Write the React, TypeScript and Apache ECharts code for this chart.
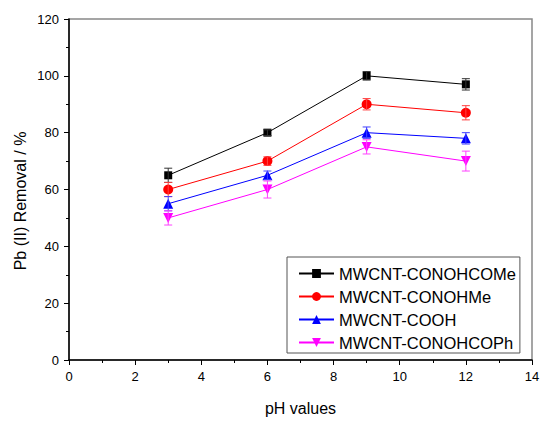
import React, { useEffect, useRef } from "react";
import * as echarts from "echarts";

const pH = [3, 6, 9, 12];
const seriesNames = ["MWCNT-CONOHCOMe", "MWCNT-CONOHMe", "MWCNT-COOH", "MWCNT-CONOHCOPh"];
const conohcome = [65, 80, 100, 97];
const conohme = [60, 70, 90, 87];
const cooh = [55, 65, 80, 78];
const conohcoph = [50, 60, 75, 70];
const errConohcome = [2.5, 1, 1.5, 2];
const errConohme = [2.5, 1.5, 2, 2.5];
const errCooh = [2.5, 1.5, 2, 2];
const errConohcoph = [2.5, 3, 2.5, 3.5];

const FONT = 'Arial, "Liberation Sans", sans-serif';

export default function App() {
  const ref = useRef<HTMLDivElement>(null);
  useEffect(() => {
    if (!ref.current) return;
    const chart = echarts.init(ref.current, null, { renderer: "svg" });
    const values = [conohcome, conohme, cooh, conohcoph];
    const errs = [errConohcome, errConohme, errCooh, errConohcoph];
    const colors = ["#000000", "#ff0000", "#0000ff", "#ff00ff"];
    const errColors = ["#333333", "#ff4040", "#4040ff", "#ff40ff"];
    const symbols = ["rect", "circle", "triangle", "triangle"];
    const sizes = [8, 10, 10, 10];
    const rotates = [0, 0, 0, 180];

    const lineSeries = values.map((vals, i) => ({
      name: seriesNames[i],
      type: "line",
      data: pH.map((x, j) => [x, vals[j]]),
      symbol: symbols[i],
      symbolSize: sizes[i],
      symbolRotate: rotates[i],
      lineStyle: { color: colors[i], width: 1 },
      itemStyle: { color: colors[i] },
      z: 3,
    }));

    const errSeries = values.map((vals, i) => ({
      name: seriesNames[i] + " err",
      type: "custom",
      z: 4,
      data: pH.map((x, j) => [x, vals[j] - errs[i][j], vals[j] + errs[i][j]]),
      encode: { x: 0, y: [1, 2] },
      renderItem: (params: any, api: any) => {
        const x = api.value(0);
        const p1 = api.coord([x, api.value(2)]);
        const p2 = api.coord([x, api.value(1)]);
        const hw = 4;
        const style = { stroke: errColors[i], lineWidth: 1 };
        return {
          type: "group",
          children: [
            { type: "line", shape: { x1: p1[0], y1: p1[1], x2: p2[0], y2: p2[1] }, style },
            { type: "line", shape: { x1: p1[0] - hw, y1: p1[1], x2: p1[0] + hw, y2: p1[1] }, style },
            { type: "line", shape: { x1: p2[0] - hw, y1: p2[1], x2: p2[0] + hw, y2: p2[1] }, style },
          ],
        };
      },
    }));

    chart.setOption({
      animation: false,
      backgroundColor: "#ffffff",
      grid: {
        left: 69,
        right: 18,
        top: 19,
        bottom: 59,
        show: true,
        borderColor: "#888888",
        borderWidth: 1.5,
        backgroundColor: "transparent",
      },
      xAxis: {
        type: "value",
        min: 0,
        max: 14,
        interval: 2,
        name: "pH values",
        nameLocation: "middle",
        nameGap: 40,
        nameTextStyle: { fontSize: 16, color: "#000", fontFamily: FONT },
        axisLine: { lineStyle: { color: "#000", width: 1.5 } },
        axisTick: { show: true, inside: false, length: 5, lineStyle: { color: "#000" } },
        minorTick: { show: true, splitNumber: 2, length: 3, lineStyle: { color: "#000" } },
        splitLine: { show: false },
        axisLabel: { fontSize: 13, color: "#000", fontFamily: FONT, margin: 10 },
      },
      yAxis: {
        type: "value",
        min: 0,
        max: 120,
        interval: 20,
        axisLine: { show: true, lineStyle: { color: "#000", width: 1.5 } },
        axisTick: { show: true, inside: false, length: 5, lineStyle: { color: "#000" } },
        minorTick: { show: true, splitNumber: 2, length: 3, lineStyle: { color: "#000" } },
        splitLine: { show: false },
        axisLabel: { fontSize: 13, color: "#000", fontFamily: FONT, margin: 10 },
      },
      legend: {
        data: seriesNames,
        orient: "vertical",
        left: 287,
        top: 257,
        itemWidth: 35,
        itemHeight: 11,
        itemGap: 6,
        padding: [8, 4, 2, 11],
        borderColor: "#555555",
        borderWidth: 1,
        backgroundColor: "#ffffff",
        textStyle: { fontSize: 16.5, color: "#000", fontFamily: FONT, lineHeight: 14 },
      },
      graphic: [
        {
          type: "text",
          x: 20,
          y: 201,
          rotation: Math.PI / 2,
          style: {
            text: "Pb (II) Removal / %",
            fontSize: 16,
            fontFamily: FONT,
            fill: "#000",
            textAlign: "center",
            textVerticalAlign: "middle",
          },
        },
      ],
      series: [...lineSeries, ...errSeries],
    });
    return () => chart.dispose();
  }, []);
  return (
    <div
      ref={ref}
      style={{ position: "absolute", left: 0, top: 0, width: 550, height: 421 }}
    />
  );
}
